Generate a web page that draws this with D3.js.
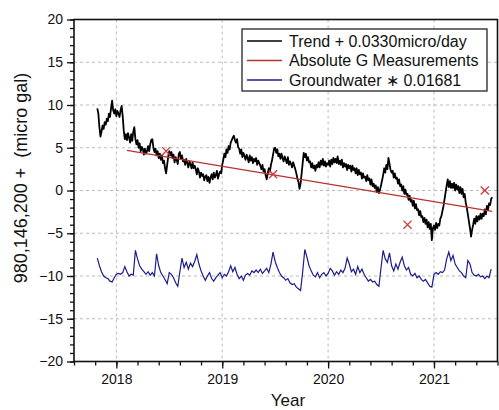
<!DOCTYPE html>
<html><head><meta charset="utf-8">
<script src="https://cdn.jsdelivr.net/npm/d3@7"></script>
<style>
body{margin:0;background:#fff}
svg{display:block}
text{font-family:"Liberation Sans",Arial,sans-serif;fill:#111}
</style>
</head><body>
<svg id="chart" width="499" height="410"></svg>
<script>
// ---------- DATA ----------
// Trend series (black), regular sampling from trendStart every trendStep years
const trendStart = 2017.82, trendStep = 0.01;
const trendValues = [
 9.6, 9.0, 7.4, 6.3, 6.9, 7.6, 7.2, 8.0, 7.7, 8.4,
 8.1, 9.0, 8.6, 9.6, 10.5, 9.4, 9.0, 9.5, 8.7, 9.3,
 9.0, 8.6, 9.4, 9.9, 8.7, 7.0, 6.0, 6.6, 5.9, 6.7,
 6.2, 5.6, 6.6, 5.8, 6.9, 7.4, 6.0, 5.4, 5.9, 5.0,
 5.5, 4.6, 5.1, 4.9, 4.2, 4.9, 4.3, 4.6, 5.2, 4.6,
 5.4, 5.9, 6.0, 5.0, 4.5, 4.9, 4.1, 4.6, 3.8, 4.3,
 3.6, 4.1, 3.2, 3.5, 2.6, 2.0, 3.0, 4.0, 4.6, 4.1,
 4.5, 3.8, 4.2, 3.3, 3.9, 3.6, 3.1, 4.3, 4.5, 3.7,
 4.1, 3.4, 3.6, 3.0, 3.7, 3.2, 2.7, 3.4, 3.1, 2.6,
 3.3, 2.6, 2.9, 2.5, 1.9, 2.6, 2.2, 1.5, 2.1, 1.7,
 1.9, 1.2, 1.6, 1.8, 1.1, 1.6, 0.9, 1.5, 1.9, 1.3,
 2.1, 1.5, 1.8, 2.3, 1.4, 1.9, 2.2, 2.0, 3.0, 3.6,
 4.3, 3.9, 4.8, 4.4, 5.2, 4.8, 5.6, 5.9, 6.2, 6.4,
 5.9, 5.6, 6.0, 5.1, 4.9, 4.3, 4.8, 3.9, 4.4, 4.0,
 3.6, 4.2, 3.8, 3.3, 4.1, 3.5, 3.9, 3.2, 3.7, 3.4,
 3.8, 3.0, 3.5, 3.2, 2.9, 2.5, 3.0, 2.2, 2.5, 1.8,
 1.3, 2.0, 2.6, 2.2, 3.0, 3.5, 4.2, 4.9, 5.0, 4.4,
 4.8, 4.0, 4.3, 3.7, 4.3, 3.8, 3.4, 4.0, 3.6, 3.2,
 3.9, 3.0, 3.4, 3.1, 2.7, 3.3, 2.9, 2.5, 2.0, 1.4,
 1.0, 0.2, 0.8, 2.0, 3.2, 4.4, 3.9, 4.3, 3.5, 3.9,
 3.3, 3.4, 2.7, 3.2, 2.6, 2.9, 2.3, 3.0, 2.7, 3.3,
 2.7, 3.5, 3.0, 3.7, 2.9, 3.4, 2.8, 3.2, 3.0, 3.5,
 2.8, 3.6, 3.1, 3.8, 3.3, 3.7, 3.2, 4.0, 3.1, 3.5,
 3.0, 3.6, 2.7, 3.2, 2.8, 3.1, 2.4, 3.0, 2.6, 2.9,
 2.2, 2.9, 2.4, 2.6, 2.0, 2.6, 1.8, 2.4, 1.9, 2.1,
 1.4, 2.0, 1.5, 1.6, 1.1, 1.8, 1.2, 1.4, 0.7, 1.3,
 0.5, 0.8, 0.3, 0.6, -0.2, 0.4, -0.3, 0.1, 0.6, 1.2,
 1.8, 2.6, 2.1, 3.0, 2.5, 3.8, 3.1, 2.4, 2.1, 2.3,
 1.5, 2.0, 1.4, 1.5, 0.8, 1.3, 0.5, 0.7, 0.0, 0.5,
 -0.4, 0.1, -0.5, -0.4, -1.1, -0.6, -1.3, -1.1, -1.8, -1.2,
 -2.1, -1.6, -2.3, -2.2, -2.9, -2.4, -3.1, -3.0, -3.7, -3.2,
 -3.9, -3.4, -4.3, -3.7, -4.5, -3.9, -5.8, -4.4, -4.1, -4.6,
 -3.8, -4.4, -3.9, -4.1, -3.3, -3.0, -2.4, -1.8, -1.0, -0.2,
 0.6, 1.3, 0.4, 1.1, 0.3, 0.8, 0.3, 0.9, 0.0, 0.7,
 0.1, 0.5, -0.3, 0.4, -0.4, 0.2, -0.8, -0.4, -1.4, -2.0,
 -2.8, -3.6, -4.4, -5.4, -4.6, -4.0, -3.3, -3.9, -3.0, -3.6,
 -3.0, -3.4, -2.7, -3.3, -2.7, -3.0, -2.2, -2.8, -1.8, -2.3,
 -1.5, -1.7, -1.0, -0.8
];

// Groundwater * 0.01681 (blue), sampled every gwStep years from gwStart
const gwStart = 2017.82, gwStep = 0.02;
const gwValues = [
 -7.9, -8.8, -9.5, -10.0, -10.2, -10.3, -10.6, -10.7, -10.2, -9.8,
 -9.7, -9.8, -9.6, -8.9, -9.5, -10.0, -9.8, -9.9, -7.0, -8.0,
 -8.8, -9.2, -9.5, -9.8, -9.5, -9.9, -9.6, -10.0, -7.4, -8.8,
 -9.6, -10.0, -10.4, -10.9, -9.6, -9.8, -10.2, -10.8, -11.2, -9.5,
 -7.9, -9.0, -8.4, -9.2, -8.5, -8.9, -8.3, -7.5, -8.6, -9.4,
 -10.0, -10.5, -10.0, -9.6, -10.3, -10.6, -10.2, -9.9, -9.6, -10.2,
 -9.8, -10.0, -9.5, -8.8, -9.5, -9.0, -9.8, -10.3, -10.0, -10.5,
 -9.9, -9.7, -9.9, -9.4, -9.6, -9.3, -9.6, -9.2, -9.7, -9.4,
 -9.1, -9.6, -8.6, -7.2, -8.3, -9.0, -9.6, -10.0, -10.2, -10.5,
 -10.3, -10.8, -11.0, -10.9, -11.3, -11.5, -11.7, -9.5, -6.9, -7.8,
 -8.8, -9.4, -9.9, -10.1, -9.6, -10.2, -9.8, -9.6, -10.0, -9.7,
 -9.1, -9.4, -9.9, -9.5, -9.8, -9.3, -9.6, -9.1, -7.9, -8.6,
 -9.5, -9.2, -9.8, -8.9, -9.6, -9.2, -9.8, -10.2, -10.6, -10.4,
 -10.7, -10.6, -11.0, -11.2, -9.0, -7.0, -8.0, -8.4, -7.3, -8.8,
 -9.4, -8.6, -9.2, -8.4, -7.8, -8.8, -9.3, -9.0, -9.8, -10.0,
 -9.7, -10.2, -10.0, -10.4, -10.6, -10.4, -10.8, -11.2, -11.3, -9.8,
 -9.6, -9.8, -9.5, -9.6, -9.3, -8.0, -7.2, -8.2, -7.6, -8.6,
 -9.0, -9.4, -9.6, -10.0, -10.2, -8.2, -8.6, -9.6, -9.9, -10.0,
 -9.8, -10.1, -10.0, -10.3, -10.0, -10.2, -9.2
];

// Absolute G measurements (red X) and their fitted line
const absYears  = [2018.47, 2019.48, 2020.75, 2021.48];
const absValues = [4.6, 1.9, -4.0, 0.0];
const absFitYears  = [2018.10, 2021.55];
const absFitValues = [4.7, -2.45];

const yMajorTicks = [-20, -15, -10, -5, 0, 5, 10, 15, 20];
const xMajorTicks = [2018, 2019, 2020, 2021];
const legendLabels = ["Trend + 0.0330micro/day", "Absolute G Measurements", "Groundwater \u2217 0.01681"];
const yTitle = "980,146,200 +  (micro gal)";
const xTitle = "Year";

// ---------- CHART ----------
const colors = {trend:"#000000", abs:"#b83232", absMark:"#d03a3a", gw:"#1c1c8a", grid:"#a8a8a8"};
const svg = d3.select("#chart");
const L = 74, R = 497.5, T = 19.5, B = 361.5;
const x = d3.scaleLinear().domain([2017.6, 2021.6]).range([L, R]);
const y = d3.scaleLinear().domain([-20, 20]).range([B, T]);

// grid
const g = svg.append("g");
g.selectAll(".gy").data(yMajorTicks.filter(v => v > -20 && v < 20)).join("line")
  .attr("x1", L).attr("x2", R).attr("y1", d => y(d)).attr("y2", d => y(d))
  .attr("stroke", colors.grid).attr("stroke-width", 0.8).attr("stroke-dasharray", "3,3");
g.selectAll(".gx").data(xMajorTicks).join("line")
  .attr("y1", T).attr("y2", B).attr("x1", d => x(d)).attr("x2", d => x(d))
  .attr("stroke", colors.grid).attr("stroke-width", 0.8).attr("stroke-dasharray", "3,3");

// series
const trendData = trendValues.map((v, i) => [trendStart + i * trendStep, v]);
const gwData = gwValues.map((v, i) => [gwStart + i * gwStep, v]);
const line = d3.line().x(d => x(d[0])).y(d => y(d[1]));

svg.append("path").datum(gwData).attr("d", line)
  .attr("fill", "none").attr("stroke", colors.gw).attr("stroke-width", 1.2);
svg.append("path").datum(trendData).attr("d", line)
  .attr("fill", "none").attr("stroke", colors.trend).attr("stroke-width", 1.8).attr("stroke-linejoin", "round");
svg.append("path").datum(absFitYears.map((t, i) => [t, absFitValues[i]])).attr("d", line)
  .attr("fill", "none").attr("stroke", colors.abs).attr("stroke-width", 1.3);
svg.append("g").selectAll("path").data(absYears.map((t, i) => [t, absValues[i]])).join("path")
  .attr("d", d3.symbol(d3.symbolTimes, 45))
  .attr("transform", d => `translate(${x(d[0])},${y(d[1])})`)
  .attr("fill", "none").attr("stroke", colors.absMark).attr("stroke-width", 1.3);

// axes
const yMinor = d3.range(-20, 21, 1);
const xMinor = d3.range(2017.6, 2021.61, 0.2).map(v => +v.toFixed(1));
svg.append("g").attr("transform", `translate(${L},0)`)
  .call(d3.axisLeft(y).tickValues(yMinor).tickSize(4).tickFormat(""))
  .call(a => a.select(".domain").remove());
svg.append("g").attr("transform", `translate(${L},0)`)
  .call(d3.axisLeft(y).tickValues(yMajorTicks).tickSize(7).tickPadding(4))
  .call(a => a.select(".domain").remove())
  .call(a => a.selectAll("text").attr("font-size", 14).attr("font-family", '"Liberation Sans",Arial,sans-serif').attr("fill", "#111"));
svg.append("g").attr("transform", `translate(0,${B})`)
  .call(d3.axisBottom(x).tickValues(xMinor).tickSize(4).tickFormat(""))
  .call(a => a.select(".domain").remove());
svg.append("g").attr("transform", `translate(0,${B})`)
  .call(d3.axisBottom(x).tickValues(xMajorTicks).tickSize(7).tickPadding(6).tickFormat(d3.format("d")))
  .call(a => a.select(".domain").remove())
  .call(a => a.selectAll("text").attr("font-size", 14).attr("font-family", '"Liberation Sans",Arial,sans-serif').attr("fill", "#111"));
svg.selectAll(".tick line").attr("stroke", "#111").attr("stroke-width", 1.3);

// frame
svg.append("rect").attr("x", L).attr("y", T).attr("width", R - L).attr("height", B - T)
  .attr("fill", "none").attr("stroke", "#111").attr("stroke-width", 1.6);

// titles
svg.append("text").attr("x", 288).attr("y", 406).attr("text-anchor", "middle")
  .attr("font-size", 17).text(xTitle);
svg.append("text").attr("transform", "translate(27,178) rotate(-90)").attr("text-anchor", "middle")
  .attr("font-size", 18).style("white-space", "pre").text(yTitle);

// legend
const lg = svg.append("g");
lg.append("rect").attr("x", 242).attr("y", 29).attr("width", 245).attr("height", 62)
  .attr("fill", "#fff").attr("stroke", "#111").attr("stroke-width", 1.2);
const lcol = [colors.trend, colors.abs, colors.gw];
legendLabels.forEach((lab, i) => {
  const yy = 41 + i * 19.5;
  lg.append("line").attr("x1", 247).attr("x2", 282).attr("y1", yy).attr("y2", yy)
    .attr("stroke", lcol[i]).attr("stroke-width", 1.3);
  lg.append("text").attr("x", 289).attr("y", yy + 5.5).attr("font-size", 16).text(lab);
});
</script>
</body></html>
